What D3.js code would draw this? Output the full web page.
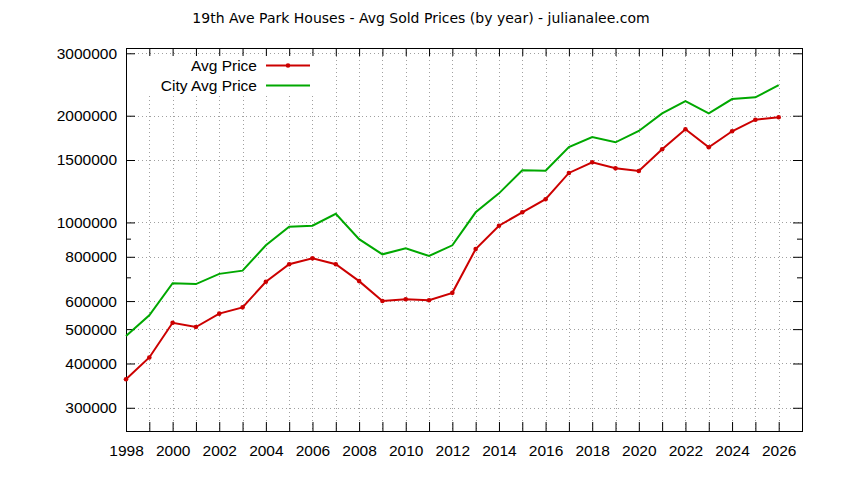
<!DOCTYPE html>
<html>
<head>
<meta charset="utf-8">
<script src="https://cdn.jsdelivr.net/npm/d3@7"></script>
<style>
  body { margin: 0; background: #fff; }
  svg text { font-family: "Liberation Sans", "DejaVu Sans", sans-serif; fill: #000; }
</style>
</head>
<body>
<div id="chart"></div>
<script>
// Avg sold prices per year, log scale, gnuplot look

const years = [1998, 1999, 2000, 2001, 2002, 2003, 2004, 2005, 2006, 2007,
               2008, 2009, 2010, 2011, 2012, 2013, 2014, 2015, 2016, 2017,
               2018, 2019, 2020, 2021, 2022, 2023, 2024, 2025, 2026];

const avgPrice = [361000, 416000, 521000, 507000, 553000, 576000, 680000, 762000, 792000, 762000,
                  683000, 600000, 607000, 603000, 633000, 841000, 979000, 1068000, 1163000, 1379000,
                  1478000, 1421000, 1397000, 1608000, 1831000, 1629000, 1808000, 1949000, 1980000];

const cityAvgPrice = [478000, 547000, 674000, 670000, 716000, 731000, 862000, 973000, 979000, 1058000,
                      897000, 813000, 845000, 804000, 862000, 1068000, 1208000, 1403000, 1400000, 1632000,
                      1741000, 1683000, 1811000, 2031000, 2200000, 2031000, 2229000, 2254000, 2438000];

const yTicks = [300000, 400000, 500000, 600000, 700000, 800000, 900000, 1000000, 1500000, 2000000, 3000000];
const yTickLabels = ["300000", "400000", "500000", "600000", "", "800000", "", "1000000", "1500000", "2000000", "3000000"];

const seriesNames = ["Avg Price", "City Avg Price"];
const seriesColors = ["#cc0000", "#00a800"];

const width = 844;
const height = 480;
const margin = { top: 48, right: 42, bottom: 49, left: 126 };
const innerW = width - margin.left - margin.right;
const innerH = height - margin.top - margin.bottom;
const labelSize = "15.5px";

const svg = d3.select("#chart")
    .append("svg")
    .attr("width", width)
    .attr("height", height);

// title
svg.append("text")
    .attr("x", 421)
    .attr("y", 23)
    .attr("text-anchor", "middle")
    .attr("font-size", "14px")
    .style("font-family", "'DejaVu Sans', sans-serif")
    .text("19th Ave Park Houses - Avg Sold Prices (by year) - julianalee.com");

const g = svg.append("g")
    .attr("transform", `translate(${margin.left},${margin.top})`);

const x = d3.scaleLinear()
    .domain([1998, 2027])
    .range([0, innerW]);

const y = d3.scaleLog()
    .domain([258000, 3105000])
    .range([innerH, 0]);

const labelFor = v => yTickLabels[yTicks.indexOf(v)];

// grid lines (dotted)
const grid = g.append("g")
    .attr("stroke", "#a0a0a0")
    .attr("stroke-width", 1)
    .attr("stroke-dasharray", "1,3");

grid.selectAll(".vgrid")
    .data(years.filter(yr => yr > 1998))
    .enter()
    .append("line")
    .attr("x1", d => Math.round(x(d)) + 0.5)
    .attr("x2", d => Math.round(x(d)) + 0.5)
    .attr("y1", 0)
    .attr("y2", innerH);

grid.selectAll(".hgrid")
    .data(yTicks.filter(v => labelFor(v) !== ""))
    .enter()
    .append("line")
    .attr("x1", 0)
    .attr("x2", innerW)
    .attr("y1", d => Math.round(y(d)) + 0.5)
    .attr("y2", d => Math.round(y(d)) + 0.5);

// the key sits on an opaque box that hides the grid behind it
g.append("rect")
    .attr("x", 1)
    .attr("y", 8)
    .attr("width", 192)
    .attr("height", 39)
    .attr("fill", "#fff");

/**
 * Draws one axis with inward ticks, then strips the domain path.
 */
function drawAxis(axis, transform) {
    const a = g.append("g")
        .attr("transform", transform)
        .call(axis)
        .attr("font-size", labelSize)
        .attr("font-family", null);
    a.select(".domain").remove();
    a.selectAll(".tick line").attr("stroke", "#000");
    return a;
}

const xTickFmt = d => (d % 2 === 0 ? String(d) : "");

drawAxis(d3.axisBottom(x).tickValues(years).tickFormat(xTickFmt)
    .tickSizeInner(-9).tickSizeOuter(0).tickPadding(14), `translate(0,${innerH})`);
drawAxis(d3.axisTop(x).tickValues(years).tickFormat("")
    .tickSizeInner(-8).tickSizeOuter(0), "translate(0,0)");

const yLeft = drawAxis(d3.axisLeft(y).tickValues(yTicks).tickFormat(labelFor)
    .tickSizeInner(-9).tickSizeOuter(0).tickPadding(9), "translate(0,0)");
const yRight = drawAxis(d3.axisRight(y).tickValues(yTicks).tickFormat("")
    .tickSizeInner(-9).tickSizeOuter(0), `translate(${innerW},0)`);

// unlabelled ticks are minor: shorter
[yLeft, yRight].forEach((a, i) => {
    a.selectAll(".tick line")
        .filter(d => labelFor(d) === "")
        .attr("x2", i === 0 ? 5 : -5);
});

// frame
g.append("rect")
    .attr("x", 0.5)
    .attr("y", 0.5)
    .attr("width", innerW)
    .attr("height", innerH)
    .attr("fill", "none")
    .attr("stroke", "#000")
    .attr("stroke-width", 1);

// series lines
const line = d3.line()
    .x((d, i) => x(years[i]))
    .y(d => y(d));

g.append("path")
    .datum(cityAvgPrice)
    .attr("fill", "none")
    .attr("stroke", seriesColors[1])
    .attr("stroke-width", 2)
    .attr("d", line);

g.append("path")
    .datum(avgPrice)
    .attr("fill", "none")
    .attr("stroke", seriesColors[0])
    .attr("stroke-width", 2)
    .attr("d", line);

g.selectAll(".pt")
    .data(avgPrice)
    .enter()
    .append("circle")
    .attr("cx", (d, i) => x(years[i]))
    .attr("cy", d => y(d))
    .attr("r", 2.3)
    .attr("fill", seriesColors[0]);

// legend
const legend = svg.append("g")
    .attr("font-size", labelSize);

seriesNames.forEach((name, i) => {
    const ly = 65.5 + i * 20;
    legend.append("text")
        .attr("x", 257)
        .attr("y", ly)
        .attr("dy", "0.35em")
        .attr("text-anchor", "end")
        .text(name);
    legend.append("line")
        .attr("x1", 266)
        .attr("x2", 310)
        .attr("y1", ly)
        .attr("y2", ly)
        .attr("stroke", seriesColors[i])
        .attr("stroke-width", 2);
    if (i === 0) {
        legend.append("circle")
            .attr("cx", 288)
            .attr("cy", ly)
            .attr("r", 2.3)
            .attr("fill", seriesColors[i]);
    }
});
</script>
</body>
</html>
